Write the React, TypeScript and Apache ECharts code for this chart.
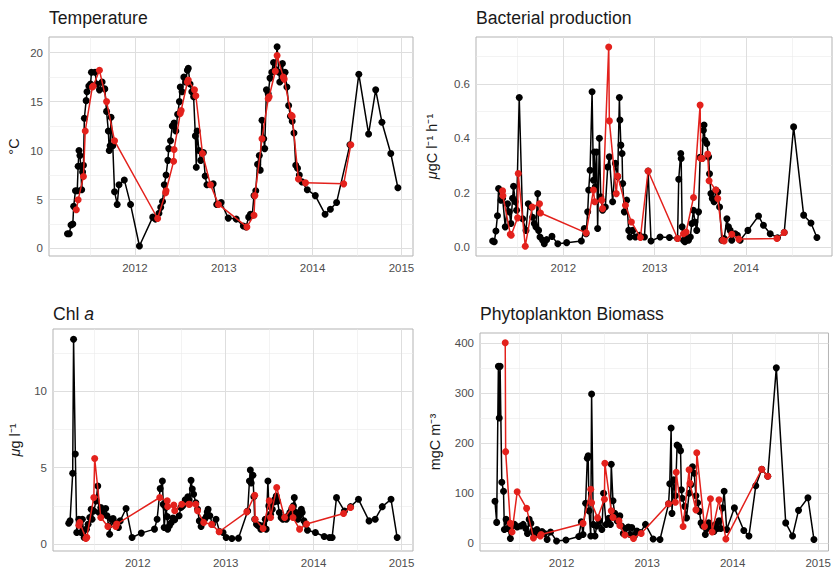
import React, { useEffect, useRef } from 'react';
import * as echarts from 'echarts';

// ---------- data (decimal year, value) ----------
const tempAll: [number, number][] = [
  [2011.24,1.5],[2011.26,1.5],[2011.28,2.4],[2011.30,2.5],[2011.31,4.3],[2011.33,5.9],[2011.35,5.9],[2011.36,8.4],[2011.37,10.0],[2011.38,9.5],[2011.39,8.4],[2011.40,6.0],[2011.41,7.8],[2011.42,8.5],[2011.43,13.3],[2011.45,15.1],[2011.46,16.0],[2011.48,16.6],[2011.50,16.8],[2011.51,18.0],[2011.55,18.0],[2011.57,16.8],[2011.60,16.2],[2011.63,17.0],[2011.66,16.3],[2011.68,14.0],[2011.70,12.0],[2011.71,10.0],[2011.72,10.5],[2011.73,13.4],[2011.75,10.5],[2011.77,5.8],[2011.80,4.5],[2011.82,6.5],[2011.88,7.0],[2011.95,4.5],[2012.05,0.25],[2012.20,3.2],[2012.23,3.0],[2012.27,3.6],[2012.29,4.2],[2012.31,4.8],[2012.33,6.5],[2012.35,7.5],[2012.37,9.0],[2012.38,10.2],[2012.40,11.0],[2012.42,12.5],[2012.44,12.8],[2012.46,12.0],[2012.48,13.7],[2012.50,15.0],[2012.51,16.5],[2012.53,16.0],[2012.55,17.5],[2012.57,17.0],[2012.59,18.2],[2012.60,18.4],[2012.62,16.8],[2012.64,16.0],[2012.66,15.5],[2012.68,11.5],[2012.69,8.3],[2012.70,12.0],[2012.72,10.0],[2012.74,9.0],[2012.77,9.8],[2012.79,7.4],[2012.81,6.5],[2012.88,6.6],[2012.92,4.5],[2012.97,4.7],[2013.05,3.1],[2013.14,3.0],[2013.22,2.3],[2013.25,2.2],[2013.28,3.2],[2013.30,3.5],[2013.32,3.4],[2013.34,5.4],[2013.36,5.9],[2013.38,8.6],[2013.40,9.5],[2013.41,8.0],[2013.43,13.1],[2013.45,11.2],[2013.46,10.2],[2013.48,16.2],[2013.50,15.8],[2013.52,17.4],[2013.54,18.0],[2013.56,19.0],[2013.58,18.3],[2013.60,20.6],[2013.62,18.0],[2013.63,17.0],[2013.66,18.9],[2013.67,17.5],[2013.69,18.0],[2013.71,16.5],[2013.73,14.6],[2013.75,13.5],[2013.77,13.0],[2013.79,11.8],[2013.81,8.5],[2013.83,8.2],[2013.85,7.5],[2013.88,6.8],[2013.94,6.0],[2014.03,5.4],[2014.14,3.5],[2014.20,4.0],[2014.27,4.7],[2014.42,10.6],[2014.52,17.8],[2014.63,11.7],[2014.71,16.2],[2014.78,12.9],[2014.88,9.7],[2014.96,6.2]
];
const tempSel: [number, number][] = [
  [2011.34,3.95],[2011.36,4.97],[2011.42,7.35],[2011.44,12.0],[2011.52,16.5],[2011.53,16.6],[2011.60,18.2],[2011.68,15.0],[2011.77,11.0],[2012.255,3.06],[2012.345,5.7],[2012.35,5.9],[2012.435,8.9],[2012.44,10.1],[2012.51,13.8],[2012.52,14.1],[2012.59,17.0],[2012.60,17.2],[2012.67,16.2],[2012.685,15.6],[2012.76,9.7],[2012.85,6.5],[2012.94,4.5],[2013.26,2.2],[2013.34,3.4],[2013.35,5.4],[2013.43,11.2],[2013.50,15.3],[2013.51,15.5],[2013.58,18.1],[2013.60,19.7],[2013.67,17.5],[2013.68,17.3],[2013.76,13.6],[2013.77,13.5],[2013.84,7.1],[2013.92,6.7],[2014.35,6.6],[2014.43,10.6]
];
const bactAll: [number, number][] = [
  [2011.227,0.023],[2011.245,0.02],[2011.263,0.06],[2011.28,0.116],[2011.292,0.216],[2011.318,0.173],[2011.336,0.18],[2011.365,0.075],[2011.39,0.16],[2011.41,0.13],[2011.427,0.087],[2011.445,0.18],[2011.456,0.224],[2011.474,0.167],[2011.489,0.136],[2011.518,0.55],[2011.555,0.105],[2011.592,0.062],[2011.617,0.16],[2011.646,0.148],[2011.664,0.11],[2011.683,0.087],[2011.70,0.075],[2011.72,0.197],[2011.73,0.062],[2011.745,0.038],[2011.774,0.026],[2011.792,0.013],[2011.818,0.028],[2011.876,0.04],[2011.94,0.013],[2012.037,0.017],[2012.198,0.023],[2012.23,0.069],[2012.25,0.05],[2012.267,0.13],[2012.278,0.21],[2012.293,0.283],[2012.315,0.571],[2012.33,0.246],[2012.34,0.35],[2012.35,0.222],[2012.365,0.35],[2012.376,0.069],[2012.395,0.40],[2012.41,0.185],[2012.43,0.136],[2012.46,0.148],[2012.486,0.295],[2012.504,0.332],[2012.54,0.167],[2012.57,0.308],[2012.595,0.259],[2012.614,0.55],[2012.62,0.467],[2012.63,0.375],[2012.643,0.344],[2012.65,0.234],[2012.668,0.13],[2012.694,0.173],[2012.716,0.062],[2012.73,0.038],[2012.76,0.062],[2012.789,0.038],[2012.833,0.044],[2012.888,0.038],[2012.928,0.28],[2012.96,0.023],[2013.059,0.038],[2013.161,0.036],[2013.25,0.032],[2013.263,0.25],[2013.285,0.344],[2013.29,0.326],[2013.30,0.075],[2013.315,0.026],[2013.33,0.02],[2013.35,0.032],[2013.37,0.026],[2013.39,0.038],[2013.406,0.087],[2013.424,0.136],[2013.44,0.093],[2013.46,0.062],[2013.48,0.13],[2013.497,0.33],[2013.52,0.326],[2013.533,0.43],[2013.54,0.449],[2013.55,0.393],[2013.57,0.381],[2013.59,0.332],[2013.60,0.27],[2013.615,0.197],[2013.63,0.179],[2013.65,0.167],[2013.67,0.21],[2013.69,0.203],[2013.71,0.148],[2013.735,0.026],[2013.76,0.032],[2013.79,0.105],[2013.807,0.075],[2013.826,0.062],[2013.843,0.026],[2013.88,0.05],[2013.905,0.044],[2013.935,0.026],[2014.02,0.062],[2014.136,0.115],[2014.19,0.081],[2014.264,0.05],[2014.344,0.035],[2014.417,0.054],[2014.52,0.442],[2014.63,0.118],[2014.71,0.089],[2014.775,0.036]
];
const bactSel: [number, number][] = [
  [2011.336,0.207],[2011.34,0.189],[2011.42,0.048],[2011.43,0.044],[2011.50,0.108],[2011.507,0.271],[2011.584,0.004],[2011.66,0.148],[2011.74,0.16],[2011.75,0.126],[2012.25,0.053],[2012.33,0.21],[2012.344,0.167],[2012.42,0.173],[2012.43,0.142],[2012.497,0.735],[2012.504,0.464],[2012.58,0.197],[2012.595,0.262],[2012.68,0.154],[2012.745,0.093],[2012.844,0.036],[2012.928,0.28],[2013.25,0.032],[2013.315,0.05],[2013.344,0.056],[2013.425,0.183],[2013.497,0.522],[2013.505,0.326],[2013.52,0.326],[2013.58,0.342],[2013.595,0.244],[2013.67,0.21],[2013.69,0.179],[2013.745,0.026],[2013.76,0.023],[2013.844,0.048],[2013.92,0.03],[2014.337,0.032],[2014.417,0.054]
];
const chlAll: [number, number][] = [
  [2011.215,1.37],[2011.23,1.52],[2011.26,4.63],[2011.27,13.4],[2011.29,5.9],[2011.306,0.76],[2011.33,1.63],[2011.355,0.76],[2011.37,1.63],[2011.39,0.43],[2011.416,0.98],[2011.435,1.3],[2011.454,1.74],[2011.47,2.28],[2011.48,1.63],[2011.50,2.17],[2011.526,2.83],[2011.545,3.8],[2011.56,2.07],[2011.58,2.39],[2011.60,1.96],[2011.62,2.28],[2011.635,2.33],[2011.65,1.85],[2011.67,1.2],[2011.68,0.65],[2011.70,1.63],[2011.72,1.67],[2011.74,1.41],[2011.78,1.09],[2011.80,1.52],[2011.867,2.33],[2011.935,0.43],[2012.04,0.72],[2012.19,0.98],[2012.22,1.63],[2012.255,3.63],[2012.28,4.13],[2012.29,2.6],[2012.30,1.09],[2012.32,2.4],[2012.335,1.8],[2012.34,0.98],[2012.36,1.2],[2012.38,1.4],[2012.40,1.7],[2012.42,1.6],[2012.47,1.85],[2012.49,2.39],[2012.51,2.5],[2012.54,2.9],[2012.57,3.1],[2012.585,2.9],[2012.606,4.17],[2012.62,3.6],[2012.635,3.26],[2012.66,2.7],[2012.68,2.28],[2012.70,1.52],[2012.72,1.15],[2012.76,1.63],[2012.78,1.8],[2012.79,2.1],[2012.80,2.28],[2012.82,1.85],[2012.85,1.3],[2012.89,1.63],[2012.93,0.83],[2012.97,0.76],[2013.005,0.43],[2013.07,0.37],[2013.145,0.39],[2013.25,2.17],[2013.27,4.13],[2013.28,4.85],[2013.29,4.0],[2013.31,4.5],[2013.32,3.1],[2013.33,1.63],[2013.35,1.3],[2013.37,1.2],[2013.38,1.25],[2013.40,0.98],[2013.42,1.2],[2013.45,1.63],[2013.46,0.98],[2013.48,4.13],[2013.49,2.5],[2013.51,1.96],[2013.53,2.28],[2013.55,2.76],[2013.56,2.93],[2013.575,3.15],[2013.59,2.8],[2013.61,2.07],[2013.63,1.74],[2013.65,1.63],[2013.67,1.74],[2013.69,1.63],[2013.71,1.85],[2013.73,2.07],[2013.75,2.28],[2013.77,2.5],[2013.78,3.04],[2013.80,2.07],[2013.82,1.63],[2013.84,1.85],[2013.855,2.17],[2013.86,2.28],[2013.87,2.07],[2013.89,1.52],[2013.91,1.3],[2013.93,0.91],[2014.02,0.76],[2014.12,0.5],[2014.18,0.43],[2014.21,0.43],[2014.26,3.04],[2014.35,2.17],[2014.42,2.45],[2014.51,2.93],[2014.63,1.52],[2014.70,1.63],[2014.78,2.45],[2014.88,2.93],[2014.95,0.43]
];
const chlSel: [number, number][] = [
  [2011.33,1.24],[2011.34,1.42],[2011.41,0.37],[2011.42,0.44],[2011.50,3.05],[2011.51,5.6],[2011.58,1.74],[2011.66,1.15],[2011.75,1.15],[2011.76,1.31],[2012.25,3.05],[2012.335,2.83],[2012.34,2.46],[2012.41,2.55],[2012.42,2.18],[2012.50,2.61],[2012.58,2.61],[2012.59,2.61],[2012.66,2.61],[2012.68,2.18],[2012.75,1.42],[2012.84,1.29],[2012.925,0.81],[2013.24,2.11],[2013.33,3.2],[2013.335,1.63],[2013.425,1.02],[2013.495,2.83],[2013.51,1.74],[2013.58,3.7],[2013.67,1.74],[2013.755,2.4],[2013.765,1.74],[2013.84,0.98],[2013.92,1.31],[2014.34,2.0],[2014.42,2.4]
];
const phytoAll: [number, number][] = [
  [2011.22,84],[2011.24,42],[2011.26,353],[2011.27,250],[2011.28,353],[2011.30,122],[2011.32,104],[2011.33,28],[2011.35,48],[2011.37,30],[2011.40,10],[2011.42,35],[2011.45,38],[2011.48,33],[2011.52,35],[2011.55,38],[2011.58,30],[2011.60,20],[2011.62,48],[2011.64,40],[2011.66,25],[2011.68,18],[2011.71,28],[2011.74,22],[2011.77,24],[2011.80,20],[2011.83,8],[2011.87,23],[2011.94,5],[2012.05,7],[2012.20,14],[2012.23,43],[2012.25,18],[2012.28,80],[2012.30,170],[2012.31,175],[2012.32,65],[2012.34,15],[2012.35,298],[2012.37,38],[2012.39,15],[2012.41,35],[2012.44,45],[2012.47,28],[2012.49,100],[2012.52,38],[2012.55,50],[2012.57,38],[2012.58,158],[2012.60,85],[2012.62,60],[2012.65,45],[2012.68,55],[2012.70,35],[2012.72,20],[2012.75,30],[2012.78,33],[2012.80,18],[2012.82,32],[2012.85,15],[2012.88,25],[2012.92,22],[2012.98,38],[2013.07,9],[2013.15,8],[2013.25,79],[2013.264,119],[2013.28,230],[2013.29,60],[2013.31,127],[2013.33,95],[2013.35,196],[2013.37,193],[2013.39,185],[2013.40,107],[2013.41,90],[2013.44,74],[2013.46,51],[2013.49,100],[2013.51,117],[2013.53,153],[2013.55,140],[2013.57,95],[2013.59,81],[2013.61,64],[2013.63,41],[2013.65,35],[2013.68,18],[2013.70,30],[2013.72,41],[2013.74,30],[2013.76,35],[2013.78,24],[2013.80,38],[2013.82,30],[2013.84,45],[2013.86,30],[2013.88,71],[2013.90,104],[2013.93,28],[2014.02,71],[2014.13,26],[2014.19,15],[2014.27,115],[2014.34,148],[2014.41,134],[2014.51,350],[2014.62,41],[2014.70,15],[2014.77,66],[2014.88,91],[2014.95,8]
];
const phytoSel: [number, number][] = [
  [2011.34,400],[2011.345,183],[2011.40,40],[2011.42,23],[2011.48,103],[2011.59,70],[2011.67,11],[2011.75,15],[2011.76,18],[2012.25,40],[2012.34,108],[2012.35,81],[2012.42,51],[2012.50,88],[2012.505,160],[2012.58,65],[2012.60,52],[2012.67,45],[2012.68,36],[2012.74,17],[2012.84,10],[2012.93,20],[2013.25,79],[2013.33,82],[2013.34,142],[2013.42,34],[2013.49,147],[2013.50,120],[2013.57,67],[2013.58,181],[2013.67,34],[2013.74,89],[2013.76,23],[2013.84,87],[2013.92,9],[2014.34,148],[2014.41,134]
];

// tick values
const yearMajor = [2012, 2013, 2014, 2015];
const yearMajorB = [2012, 2013, 2014];
const yearMinor = [2011.5, 2012.5, 2013.5, 2014.5];
const tempMajor = [0, 5, 10, 15, 20];
const tempMinor = [2.5, 7.5, 12.5, 17.5];
const bactMajor = [0, 0.2, 0.4, 0.6];
const bactMinor = [0.1, 0.3, 0.5, 0.7];
const chlMajor = [0, 5, 10];
const chlMinor = [2.5, 7.5, 12.5];
const phytoMajor = [0, 100, 200, 300, 400];
const phytoMinor = [50, 150, 250, 350];

const FONT = '"Liberation Sans", Arial, Helvetica, sans-serif';
const BLACK = '#000000';
const RED = '#e3211c';
const LABEL = '#4d4d4d';
const TITLE = '#1a1a1a';

type Panel = {
  grid: { left: number; top: number; width: number; height: number };
  xr: [number, number];
  yr: [number, number];
  xMajor: number[];
  xMinor: number[];
  yMajor: number[];
  yMinor: number[];
  yFmt: (v: number) => string;
  yName: string;
  nameGap: number;
  all: [number, number][];
  sel: [number, number][];
};

const panels: Panel[] = [
  { grid: { left: 49, top: 37, width: 364, height: 219 }, xr: [2011.032, 2015.13], yr: [-0.77, 21.6],
    xMajor: yearMajor, xMinor: yearMinor, yMajor: tempMajor, yMinor: tempMinor, yFmt: (v) => String(v),
    yName: '°C', nameGap: 28, all: tempAll, sel: tempSel },
  { grid: { left: 476, top: 37, width: 356, height: 219 }, xr: [2011.045, 2014.94], yr: [-0.032, 0.772],
    xMajor: yearMajorB, xMinor: yearMinor, yMajor: bactMajor, yMinor: bactMinor, yFmt: (v) => v.toFixed(1),
    yName: '{i|μ}gC l⁻¹ h⁻¹', nameGap: 37, all: bactAll, sel: bactSel },
  { grid: { left: 53, top: 329, width: 360, height: 222 }, xr: [2011.036, 2015.13], yr: [-0.45, 14.07],
    xMajor: yearMajor, xMinor: yearMinor, yMajor: chlMajor, yMinor: chlMinor, yFmt: (v) => String(v),
    yName: '{i|μ}g l⁻¹', nameGap: 31, all: chlAll, sel: chlSel },
  { grid: { left: 480, top: 333, width: 352, height: 218 }, xr: [2011.045, 2015.12], yr: [-15, 419.5],
    xMajor: yearMajor, xMinor: yearMinor, yMajor: phytoMajor, yMinor: phytoMinor, yFmt: (v) => String(v),
    yName: 'mgC m⁻³', nameGap: 38, all: phytoAll, sel: phytoSel },
];

const titleStyle = { fontFamily: FONT, fontSize: 17.6, fontWeight: 'normal' as const, color: TITLE };

function buildOption() {
  const grid: any[] = [];
  const xAxis: any[] = [];
  const yAxis: any[] = [];
  const series: any[] = [];
  panels.forEach((p, i) => {
    grid.push({ ...p.grid, show: true, borderColor: '#b3b3b3', borderWidth: 1, backgroundColor: 'transparent', containLabel: false });
    xAxis.push({
      type: 'value', gridIndex: i, min: p.xr[0], max: p.xr[1], position: 'bottom',
      axisLine: { show: false }, axisTick: { show: false, customValues: p.xMajor },
      axisLabel: { customValues: p.xMajor, formatter: (v: number) => String(Math.round(v)), color: LABEL, fontFamily: FONT, fontSize: 11.5, margin: 6 },
      splitLine: { show: true, lineStyle: { color: '#dedede', width: 1 } },
    });
    xAxis.push({
      type: 'value', gridIndex: i, min: p.xr[0], max: p.xr[1], position: 'top',
      axisLine: { show: false }, axisTick: { show: false, customValues: p.xMinor },
      axisLabel: { show: false },
      splitLine: { show: true, lineStyle: { color: '#ebebeb', width: 0.6 } },
    });
    yAxis.push({
      type: 'value', gridIndex: i, min: p.yr[0], max: p.yr[1], position: 'left',
      axisLine: { show: false }, axisTick: { show: false, customValues: p.yMajor },
      axisLabel: { customValues: p.yMajor, formatter: p.yFmt, color: LABEL, fontFamily: FONT, fontSize: 11.5, margin: 6 },
      splitLine: { show: true, lineStyle: { color: '#dedede', width: 1 } },
      name: p.yName, nameLocation: 'middle', nameGap: p.nameGap,
      nameTextStyle: { fontFamily: FONT, fontSize: 14.5, color: TITLE, rich: { i: { fontFamily: FONT, fontSize: 14.5, color: TITLE, fontStyle: 'italic' } } },
    });
    yAxis.push({
      type: 'value', gridIndex: i, min: p.yr[0], max: p.yr[1], position: 'right',
      axisLine: { show: false }, axisTick: { show: false, customValues: p.yMinor },
      axisLabel: { show: false },
      splitLine: { show: true, lineStyle: { color: '#ebebeb', width: 0.6 } },
    });
    series.push({
      type: 'line', xAxisIndex: 2 * i, yAxisIndex: 2 * i, data: p.all,
      symbol: 'circle', symbolSize: 7, showSymbol: true,
      itemStyle: { color: BLACK }, lineStyle: { color: BLACK, width: 1.5 }, z: 3,
    });
    series.push({
      type: 'line', xAxisIndex: 2 * i, yAxisIndex: 2 * i, data: p.sel,
      symbol: 'circle', symbolSize: 7, showSymbol: true,
      itemStyle: { color: RED }, lineStyle: { color: RED, width: 1.5 }, z: 4,
    });
  });
  return {
    animation: false,
    backgroundColor: '#ffffff',
    title: [
      { text: 'Temperature', left: 49, top: 8.5, padding: 0, textStyle: titleStyle },
      { text: 'Bacterial production', left: 476, top: 8.5, padding: 0, textStyle: titleStyle },
      { text: '{n|Chl }{i|a}', left: 53, top: 305, padding: 0, textStyle: { ...titleStyle, rich: { n: { ...titleStyle }, i: { ...titleStyle, fontStyle: 'italic' } } } },
      { text: 'Phytoplankton Biomass', left: 480, top: 305, padding: 0, textStyle: titleStyle },
    ],
    grid, xAxis, yAxis, series,
  };
}

export default function App() {
  const ref = useRef<HTMLDivElement>(null);
  useEffect(() => {
    document.body.style.margin = '0';
    const chart = echarts.init(ref.current!, null, { renderer: 'svg' });
    chart.setOption(buildOption() as any);
    return () => chart.dispose();
  }, []);
  return <div ref={ref} style={{ width: 834, height: 572 }} />;
}
